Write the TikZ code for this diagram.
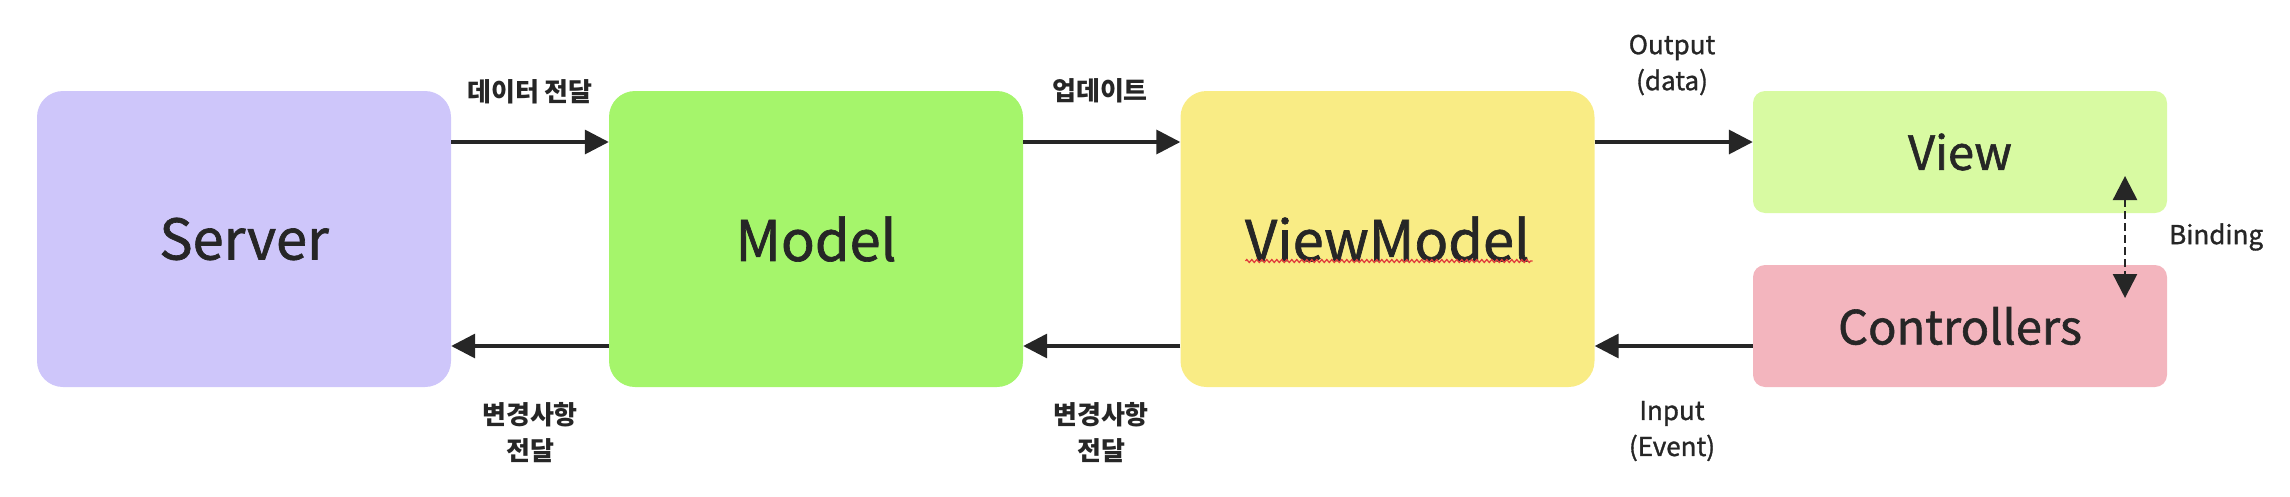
\documentclass[tikz,border=0pt]{standalone}
\usepackage{fontspec}
\setmainfont{Noto Sans CJK KR}
\newfontfamily\medfont{Noto Sans CJK KR}[FakeBold=1.2]
\usetikzlibrary{arrows.meta,decorations.pathmorphing}

\definecolor{txtcol}{HTML}{262626}
\definecolor{srvcol}{HTML}{CEC6FA}
\definecolor{mdlcol}{HTML}{A5F56B}
\definecolor{vmcol}{HTML}{F9EC85}
\definecolor{viewcol}{HTML}{D8FAA2}
\definecolor{ctrlcol}{HTML}{F3B5BE}
\definecolor{squigcol}{HTML}{E03A3A}

\tikzset{
  block/.style={rounded corners=26pt, minimum width=414pt, minimum height=296pt,
    inner sep=0pt, text=txtcol, font=\medfont\fontsize{56}{60}\selectfont},
  pane/.style={rounded corners=12pt, minimum width=414pt, minimum height=122pt,
    inner sep=0pt, text=txtcol, font=\medfont\fontsize{47}{52}\selectfont},
  flow/.style={draw=txtcol, line width=3.5pt, -{Triangle[length=24pt,width=24pt]}},
  bind/.style={draw=txtcol, line width=2.5pt, dash pattern=on 8pt off 4pt,
    {Triangle[length=24pt,width=24pt]}-{Triangle[length=24pt,width=24pt]}},
  krlbl/.style={text=txtcol, align=center, font=\bfseries\fontsize{26}{36}\selectfont},
  enlbl/.style={text=txtcol, align=center, font=\medfont\fontsize{26}{36}\selectfont}
}

\begin{document}
\begin{tikzpicture}[x=1pt,y=-1pt]
    \useasboundingbox (0,0) rectangle (2290,496);
    % boxes
    \node[block, fill=srvcol] (srv) at (244,239) {Server};
    \node[block, fill=mdlcol] (mdl) at (816,239) {Model};
    \node[block, fill=vmcol] (vm) at (1387.5,239) {ViewModel};
    \node[pane, fill=viewcol] (view) at (1960,152) {View};
    \node[pane, fill=ctrlcol] (ctrl) at (1960,326) {Controllers};
    \draw[squigcol, line width=1.2pt, decorate, decoration={zigzag, amplitude=1.5pt, segment length=5pt}]
        ([shift={(-142,22)}]vm.center) -- ([shift={(145,22)}]vm.center);
    % arrows
    \draw[flow] ([yshift=97pt]srv.east) -- ([yshift=97pt]mdl.west);
    \draw[flow] ([yshift=-107pt]mdl.west) -- ([yshift=-107pt]srv.east);
    \draw[flow] ([yshift=97pt]mdl.east) -- ([yshift=97pt]vm.west);
    \draw[flow] ([yshift=-107pt]vm.west) -- ([yshift=-107pt]mdl.east);
    \draw[flow] ([yshift=97pt]vm.east) -- ([yshift=10pt]view.west);
    \draw[flow] ([yshift=-20pt]ctrl.west) -- ([yshift=-107pt]vm.east);
    \draw[bind] ([shift={(165,24)}]view.center) -- ([shift={(165,-28)}]ctrl.center);
    % labels
    \node[krlbl] (sendlbl) at (530,92) {데이터 전달};
    \node[krlbl] (updlbl) at (1100,91) {업데이트};
    \node[krlbl] (chglbl) at (530,433) {변경사항\\전달};
    \node[krlbl] (chglbl2) at (1101,433) {변경사항\\전달};
    \node[enlbl] (outlbl) at (1672,65) {Output\\(data)};
    \node[enlbl] (inlbl) at (1672,431) {Input\\(Event)};
    \node[enlbl, anchor=west, inner sep=0pt] (bindlbl) at (2169,237) {Binding};
\end{tikzpicture}
\end{document}
